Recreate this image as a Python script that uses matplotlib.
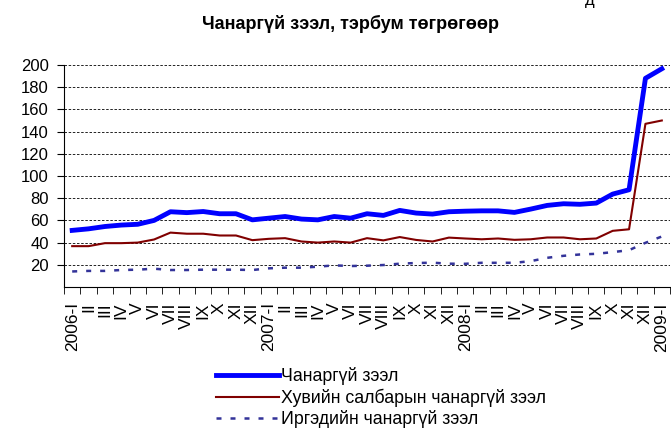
import matplotlib.pyplot as plt
import numpy as np

roman = ["I", "II", "III", "IV", "V", "VI", "VII", "VIII", "IX", "X", "XI", "XII"]
labels = []
for yr in ["2006", "2007", "2008"]:
    for i, r in enumerate(roman):
        labels.append(yr + "-" + r if i == 0 else r)
labels.append("2009-I")

total = [51, 52.4, 54.5, 55.8, 56.5, 60, 67.8, 67, 68, 66, 66, 60.5,
         62, 63.5, 61.2, 60.5, 63.5, 62, 66, 64.5, 69, 66.6, 65.7, 67.8,
         68.3, 68.6, 68.6, 67.2, 70.2, 73.5, 75, 74.5, 75.6, 83.7, 87.6, 188, 196.6]
private = [36.8, 36.8, 39.5, 39.5, 40, 42.8, 49, 48, 48, 46.4, 46.4, 42.2,
           43.4, 44, 41, 40, 41, 40, 44, 42, 45, 42.4, 41, 44.5,
           43.7, 43, 43.7, 42.5, 43, 44.6, 44.6, 43, 43.7, 50.6, 52, 147, 150]
citizens = [14, 14.5, 14.5, 15.3, 15.6, 16.5, 15.3, 15.3, 15.6, 15.6, 15.6, 15.3,
            16.8, 17.4, 17.4, 18.3, 19.5, 18.9, 19.2, 19.8, 21, 21.6, 21.9, 21,
            20.9, 21.8, 21.8, 21.8, 23.3, 26.3, 28.1, 29.3, 29.9, 31.4, 33.2, 39.8, 45.5]
series_names = ["Чанаргүй зээл", "Хувийн салбарын чанаргүй зээл", "Иргэдийн чанаргүй зээл"]

plt.rcParams['font.family'] = ['Liberation Sans', 'DejaVu Sans']

fig = plt.figure(figsize=(6.71, 4.30), dpi=100)
ax = fig.add_axes([64 / 671, 1 - 287 / 430, 606 / 671, 222 / 430])

x = np.arange(len(labels))
ax.plot(x, total, color="#0000ff", lw=3.5, solid_joinstyle="round", label=series_names[0], zorder=4)
ax.plot(x, private, color="#800000", lw=1.5, label=series_names[1], zorder=3)
ax.plot(x, citizens, color="#333399", lw=1.8, linestyle=(0, (2.0, 3.6)), label=series_names[2], zorder=3)

ax.set_xlim(-0.5, len(labels) - 0.5)
ax.set_ylim(0, 200)
ax.set_yticks(np.arange(20, 201, 20))
ax.yaxis.grid(True, color="black", lw=0.6, linestyle=(0, (3, 2)))
ax.set_axisbelow(True)
ax.tick_params(axis="y", labelsize=12, length=5, direction="out", pad=6)

ax.set_xticks(x)
ax.set_xticklabels(labels, rotation=90, fontsize=12.5)
ax.set_xticks(np.arange(-0.5, len(labels), 1), minor=True)
ax.tick_params(axis="x", which="major", length=0, pad=11)
ax.tick_params(axis="x", which="minor", length=5, direction="out")

for s in ["top", "right"]:
    ax.spines[s].set_visible(False)

fig.text(350 / 671, 1 - 24 / 430, "Чанаргүй зээл, тэрбум төгрөгөөр",
         ha="center", va="center", fontsize=13, fontweight="bold")
fig.text(590 / 671, 1.0, "д", ha="center", va="center", fontsize=12)

fig.legend(loc="upper left", bbox_to_anchor=(216 / 671, 1 - 367 / 430), frameon=False,
           fontsize=12.8, handlelength=3.55, handletextpad=0.1, labelspacing=0.2,
           borderaxespad=0, borderpad=0)

fig.savefig("out.png", dpi=100)
